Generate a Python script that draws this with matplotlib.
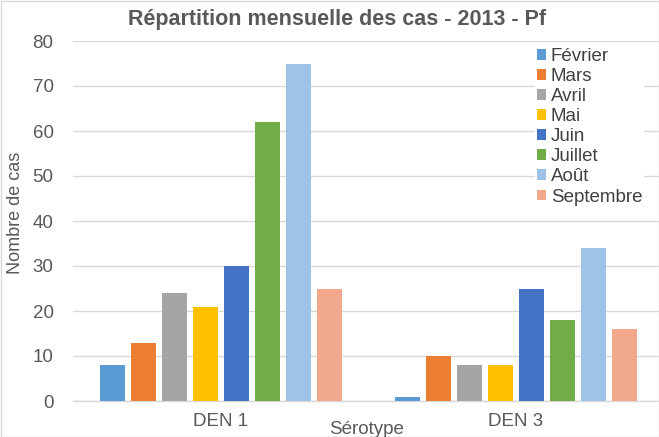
import matplotlib
matplotlib.use("Agg")
import matplotlib.pyplot as plt
import numpy as np
from matplotlib.patches import Rectangle

plt.rcParams['font.family'] = ['Liberation Sans', 'DejaVu Sans']

categories = ["DEN 1", "DEN 3"]
months = ["Février", "Mars", "Avril", "Mai", "Juin", "Juillet", "Août", "Septembre"]
fevrier = [8, 1]
mars = [13, 10]
avril = [24, 8]
mai = [21, 8]
juin = [30, 25]
juillet = [62, 18]
aout = [75, 34]
septembre = [25, 16]
series = [fevrier, mars, avril, mai, juin, juillet, aout, septembre]
colors = ["#5B9BD5", "#ED7D31", "#A5A5A5", "#FFC000", "#4472C4", "#70AD47", "#9DC3E6", "#F1A88C"]

W, H = 659, 437
fig = plt.figure(figsize=(W/100, H/100), dpi=100)
ax = fig.add_axes([73/W, (H-401)/H, (W-73)/W, (401-41)/H])

x = np.arange(len(categories))
pitch = 31/295
width = 25/295
n = len(series)
for i, (vals, c, m) in enumerate(zip(series, colors, months)):
    ax.bar(x + (i - (n-1)/2)*pitch, vals, width, color=c, label=m, zorder=3)

ax.set_ylim(0, 80)
ax.set_xlim(-0.5, 1 + (659-515.5)/295)
ax.set_yticks(range(0, 81, 10))
ax.set_xticks(x)
ax.set_xticklabels(categories)
ax.grid(axis='y', color='#D9D9D9', linewidth=1, zorder=0)
for s in ['top', 'right', 'left']:
    ax.spines[s].set_visible(False)
ax.spines['bottom'].set_color('#D9D9D9')
ax.spines['bottom'].set_linewidth(1)
ax.tick_params(axis='both', length=0, labelsize=13.5, colors='#595959')
ax.tick_params(axis='y', pad=14)
ax.tick_params(axis='x', pad=9)

fig.text(367/W, 1-429/H, "Sérotype", ha='center', va='center', fontsize=13.5, color='#595959')
fig.text(16/W, 1-213/H, "Nombre de cas", ha='center', va='center', rotation=90, fontsize=13, color='#595959')
fig.text(337/W, 1-20/H, "Répartition mensuelle des cas - 2013 - Pf", ha='center', va='center',
         fontsize=15.5, fontweight='bold', color='#595959')

leg = ax.legend(loc='upper left', bbox_to_anchor=(535/W, 1-46/H), bbox_transform=fig.transFigure,
                frameon=True, facecolor='white', edgecolor='none', framealpha=1,
                fontsize=13.5, labelspacing=0.165, handlelength=0.5, handleheight=0.5,
                handletextpad=0.25, borderpad=0.1, borderaxespad=0)
for t in leg.get_texts():
    t.set_color('#404040')

fig.patches.append(Rectangle((0.5/W, 0.5/H), 1-1/W, 1-1/H, transform=fig.transFigure,
                             fill=False, edgecolor='#D9D9D9', linewidth=1))

fig.savefig("out.png", dpi=100)
